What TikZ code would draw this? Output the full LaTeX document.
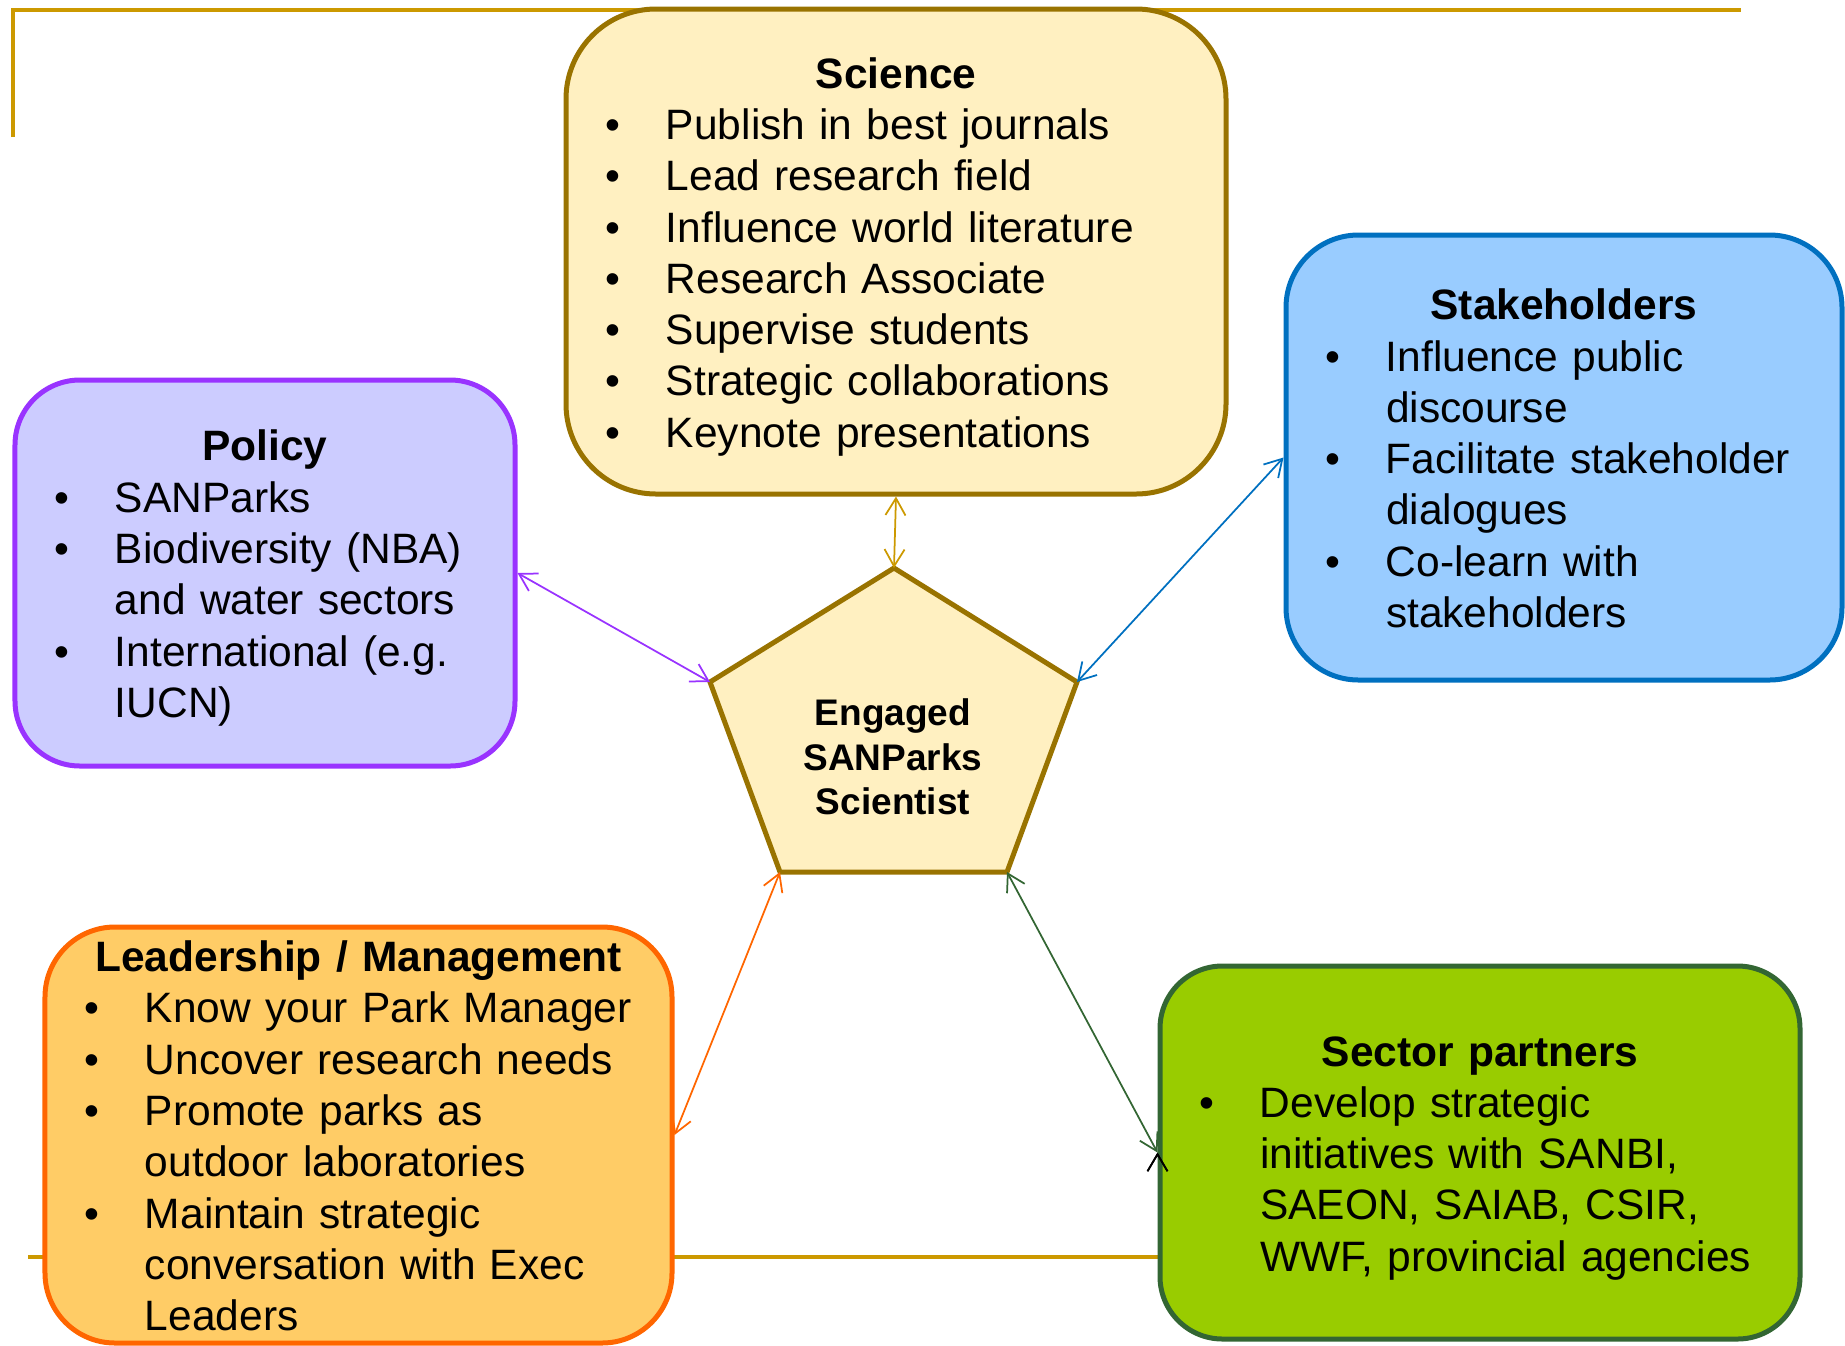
\documentclass[tikz,border=0pt]{standalone}
\usepackage{fontspec}
\setmainfont{Liberation Sans}
\usetikzlibrary{arrows.meta}

\definecolor{framegold}{HTML}{CC9900}
\definecolor{scifill}{HTML}{FFF0C1}
\definecolor{sciline}{HTML}{997300}
\definecolor{polfill}{HTML}{CCCCFF}
\definecolor{polline}{HTML}{9933FF}
\definecolor{stkfill}{HTML}{99CCFF}
\definecolor{stkline}{HTML}{0070C0}
\definecolor{leadfill}{HTML}{FFCC66}
\definecolor{leadline}{HTML}{FF6600}
\definecolor{secfill}{HTML}{99CC00}
\definecolor{secline}{HTML}{336633}

\newcommand{\lstrut}{\rule[-1.9mm]{0pt}{10.26mm}}
\newcommand{\btitle}[1]{\centerline{\lstrut\bfseries #1}}
\newcommand{\bitem}[1]{\par\noindent\lstrut\hspace*{4.9mm}\makebox[12.1mm][l]{\textbullet}#1}
\newcommand{\bcont}[1]{\par\noindent\lstrut\hspace*{17mm}#1}

\begin{document}
\begin{tikzpicture}
  [x=0.2mm,y=-0.2mm,
   box/.style={rectangle, line width=1mm, inner xsep=3mm, inner ysep=0mm,
     align=left, font=\fontsize{8.5mm}{10.26mm}\selectfont},
   penta/.style={fill=scifill, draw=sciline, line width=1mm, line join=miter}]
  \useasboundingbox (0,0) rectangle (1845,1345);

  % frame lines
  \draw[framegold, line width=0.9mm] (13,137) -- (13,10) -- (1741,10);
  \draw[framegold, line width=0.9mm] (28,1257) -- (1741,1257);

  \node[box, fill=scifill, draw=sciline, rounded corners=18mm,
    text width=126mm, minimum height=97mm] (science) at (896,251.5)
    {\btitle{Science}
     \bitem{Publish in best journals}
     \bitem{Lead research field}
     \bitem{Influence world literature}
     \bitem{Research Associate}
     \bitem{Supervise students}
     \bitem{Strategic collaborations}
     \bitem{Keynote presentations}};
  \node[box, fill=polfill, draw=polline, rounded corners=13mm,
    text width=94mm, minimum height=77.2mm] (policy) at (265,573)
    {\btitle{Policy}
     \bitem{SANParks}
     \bitem{Biodiversity (NBA)}
     \bcont{and water sectors}
     \bitem{International (e.g.}
     \bcont{IUCN)}};
  \node[box, fill=stkfill, draw=stkline, rounded corners=14.5mm,
    text width=105.2mm, minimum height=89mm] (stake) at (1564,457.5)
    {\btitle{Stakeholders}
     \bitem{Influence public}
     \bcont{discourse}
     \bitem{Facilitate stakeholder}
     \bcont{dialogues}
     \bitem{Co-learn with}
     \bcont{stakeholders}};
  \node[box, fill=leadfill, draw=leadline, rounded corners=14mm,
    text width=119.4mm, minimum height=83.2mm] (lead) at (358.5,1135)
    {\btitle{Leadership / Management}
     \bitem{Know your Park Manager}
     \bitem{Uncover research needs}
     \bitem{Promote parks as}
     \bcont{outdoor laboratories}
     \bitem{Maintain strategic}
     \bcont{conversation with Exec}
     \bcont{Leaders}};
  \node[box, fill=secfill, draw=secline, rounded corners=12.5mm,
    text width=122mm, minimum height=74.6mm] (sector) at (1480,1152.5)
    {\btitle{Sector partners}
     \bitem{Develop strategic}
     \bcont{initiatives with SANBI,}
     \bcont{SAEON, SAIAB, CSIR,}
     \bcont{WWF, provincial agencies}};

  % pentagon
  \coordinate (ptop) at (894,568);
  \coordinate (pright) at (1077,682);
  \coordinate (pbr) at (1007,872);
  \coordinate (pbl) at (780,872);
  \coordinate (pleft) at (710,682);
  \draw[penta] (ptop) -- (pright) -- (pbr) -- (pbl) -- (pleft) -- cycle;
  \node[align=center, font=\bfseries\fontsize{7.4mm}{8.94mm}\selectfont]
    (scientist) at (893,757) {Engaged\\SANParks\\Scientist};

\path[<->,draw,line width=0.35mm,>={Straight Barb[length=3.4mm,width=4mm]}]
    (science.south) edge [color=framegold] (ptop)
    (policy.east) edge [color=polline] (pleft)
    (stake.west) edge [color=stkline] (pright)
    (lead.east) edge [color=leadline] (pbl)
    (sector.west) edge [color=secline] (pbr)
;
\end{tikzpicture}
\end{document}
